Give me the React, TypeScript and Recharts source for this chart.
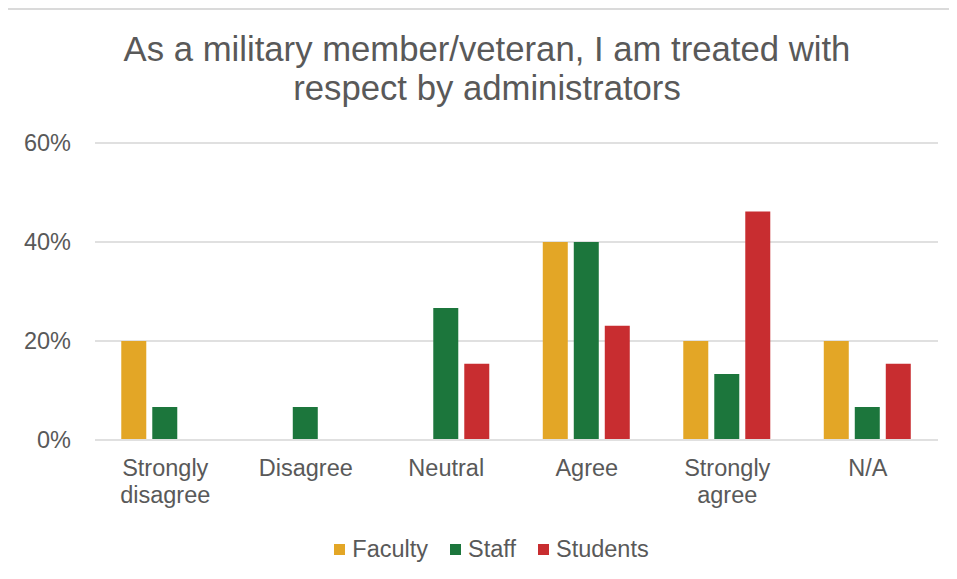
import React from 'react';
import { BarChart, Bar, XAxis, YAxis, CartesianGrid, Legend } from 'recharts';

const categories = ['Strongly disagree', 'Disagree', 'Neutral', 'Agree', 'Strongly agree', 'N/A'];
const faculty = [20, 0, 0, 40, 20, 20];
const staff = [6.67, 6.67, 26.67, 40, 13.33, 6.67];
const students = [0, 0, 15.38, 23.08, 46.15, 15.38];
const yTicks = [0, 20, 40, 60];

const seriesInfo = [
  { key: 'faculty', name: 'Faculty', color: '#E3A626' },
  { key: 'staff', name: 'Staff', color: '#1C763C' },
  { key: 'students', name: 'Students', color: '#C82D30' },
];

const data = categories.map((c, i) => ({
  category: c,
  faculty: faculty[i],
  staff: staff[i],
  students: students[i],
}));

const TEXT = '#595959';
const FONT = '"Liberation Sans", Arial, sans-serif';

const CategoryTick = (props: any) => {
  const { x, y, payload } = props;
  const lines: string[] = String(payload.value).split(' ');
  return (
    <text x={x} y={y + 36} textAnchor="middle" fill={TEXT} fontSize={23.5} fontFamily={FONT}>
      {lines.map((l, i) => (
        <tspan key={i} x={x} dy={i === 0 ? 0 : 27}>
          {l}
        </tspan>
      ))}
    </text>
  );
};

const LegendContent = () => (
  <div
    style={{
      height: 40,
      display: 'flex',
      justifyContent: 'center',
      alignItems: 'center',
      paddingLeft: 26,
      fontFamily: FONT,
      fontSize: 23.5,
      color: TEXT,
    }}
  >
    {seriesInfo.map((s) => (
      <div key={s.key} style={{ display: 'flex', alignItems: 'center', margin: '0 11px' }}>
        <span style={{ width: 11, height: 11, background: s.color, marginRight: 7, display: 'inline-block' }} />
        <span>{s.name}</span>
      </div>
    ))}
  </div>
);

export default function App() {
  return (
    <div
      style={{
        position: 'relative',
        margin: -8,
        width: 957,
        height: 579,
        overflow: 'hidden',
        background: '#f4f4f4',
        fontFamily: FONT,
      }}
    >
      <div
        style={{
          position: 'absolute',
          left: 6,
          top: 8,
          width: 980,
          height: 620,
          background: '#ffffff',
          border: '2px solid #dadada',
        }}
      />
      <div
        style={{
          position: 'absolute',
          left: 7,
          top: 30,
          width: 960,
          textAlign: 'center',
          fontSize: 34.7,
          lineHeight: '39px',
          color: TEXT,
        }}
      >
        As a military member/veteran, I am treated with
        <br />
        respect by administrators
      </div>
      <div style={{ position: 'absolute', left: 0, top: 0 }}>
        <BarChart
          width={957}
          height={579}
          data={data}
          margin={{ top: 143, right: 19, bottom: 10, left: 0 }}
          barCategoryGap="18.7%"
          barGap={6}
        >
          <CartesianGrid vertical={false} stroke="#e0e0e0" strokeWidth={2} />
          <XAxis
            dataKey="category"
            interval={0}
            tickLine={false}
            axisLine={{ stroke: '#e0e0e0', strokeWidth: 2 }}
            tickSize={0}
            tickMargin={0}
            height={89}
            tick={<CategoryTick />}
          />
          <YAxis
            domain={[0, 60]}
            ticks={yTicks}
            tickFormatter={(v: number) => `${v}%`}
            axisLine={false}
            tickLine={false}
            tickSize={0}
            tickMargin={24}
            width={95}
            tick={{ fill: TEXT, fontSize: 23.5, fontFamily: FONT }}
          />
          <Legend verticalAlign="bottom" height={40} wrapperStyle={{ left: 0, width: 957 }} content={<LegendContent />} />
          {seriesInfo.map((s) => (
            <Bar key={s.key} dataKey={s.key} name={s.name} fill={s.color} isAnimationActive={false} />
          ))}
        </BarChart>
      </div>
    </div>
  );
}
